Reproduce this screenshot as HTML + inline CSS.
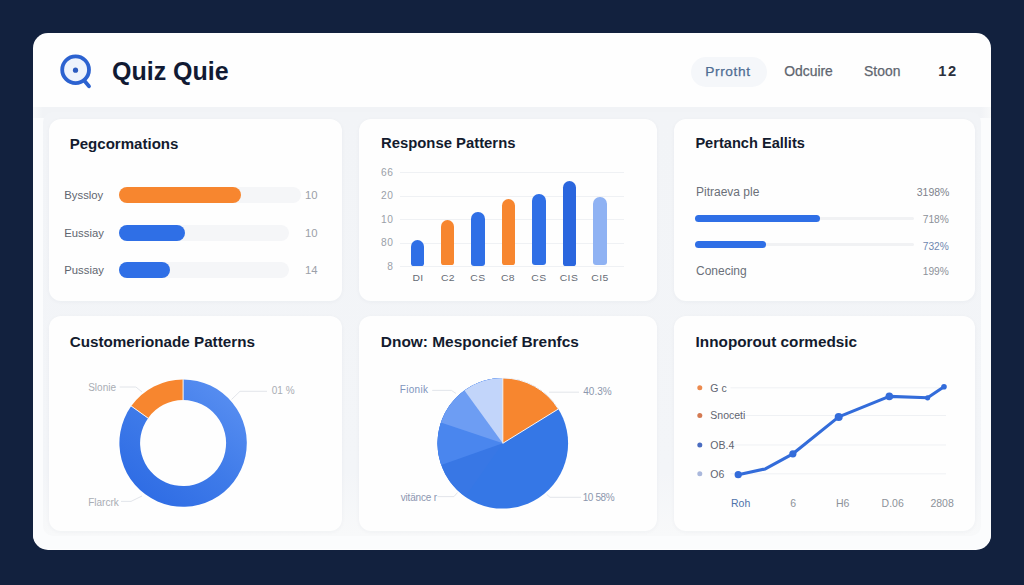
<!DOCTYPE html>
<html><head><meta charset="utf-8"><title>Quiz Quie</title>
<style>
html,body{margin:0;padding:0}
body{width:1024px;height:585px;position:relative;overflow:hidden;background:#12213e;font-family:"Liberation Sans",Arial,sans-serif}
.t{position:absolute;line-height:1;white-space:nowrap}
.r{position:absolute}
.a{position:absolute}
</style></head><body>
<div class="r" style="left:33px;top:33.4px;width:958.20px;height:516.20px;background:#fefefe;border-radius:15px;"></div>
<div class="r" style="left:33px;top:106.6px;width:958.00px;height:442.90px;background:#fbfcfd;border-radius:0px;border-radius:0 0 15px 15px;"></div>
<div class="r" style="left:33px;top:106.6px;width:958.00px;height:11.90px;background:linear-gradient(90deg,#f8f9fa 0px,#f1f3f6 10px,#f1f3f6 948px,#f8f9fa 958px);border-radius:0px;"></div>
<div class="r" style="left:43px;top:112px;width:937.50px;height:424.00px;background:linear-gradient(180deg,#f2f4f7 0px,#f3f5f8 360px,#f8f9fa 424px);border-radius:10px;"></div>
<div class="r" style="left:48.5px;top:118.5px;width:293.50px;height:182.00px;background:#fefefe;border-radius:12px;box-shadow:0 1px 4px rgba(30,40,70,0.04);"></div>
<div class="r" style="left:48.5px;top:316px;width:293.50px;height:215.00px;background:#fefefe;border-radius:12px;box-shadow:0 1px 4px rgba(30,40,70,0.04);"></div>
<div class="r" style="left:359px;top:118.5px;width:297.50px;height:182.00px;background:#fefefe;border-radius:12px;box-shadow:0 1px 4px rgba(30,40,70,0.04);"></div>
<div class="r" style="left:359px;top:316px;width:297.50px;height:215.00px;background:#fefefe;border-radius:12px;box-shadow:0 1px 4px rgba(30,40,70,0.04);"></div>
<div class="r" style="left:674px;top:118.5px;width:301.00px;height:182.00px;background:#fefefe;border-radius:12px;box-shadow:0 1px 4px rgba(30,40,70,0.04);"></div>
<div class="r" style="left:674px;top:316px;width:301.00px;height:215.00px;background:#fefefe;border-radius:12px;box-shadow:0 1px 4px rgba(30,40,70,0.04);"></div>
<svg class="a" style="left:56px;top:50px" width="40" height="42" viewBox="56 50 40 42">
<circle cx="75.6" cy="69.7" r="13.4" fill="#eef3fc" stroke="#2c62d0" stroke-width="3.8"/>
<line x1="85" y1="81.6" x2="89" y2="86.3" stroke="#2c62d0" stroke-width="3.8" stroke-linecap="round"/>
<circle cx="75.5" cy="70.2" r="2.6" fill="#2c5bc0"/>
</svg>
<div class="t" style="left:112.00px;top:59.34px;font-size:25.0px;color:#111a33;font-weight:700;">Quiz Quie</div>
<div class="r" style="left:691px;top:57px;width:76.00px;height:30.00px;background:#f5f7fa;border-radius:15px;"></div>
<div class="t" style="left:705.30px;top:65.00px;font-size:13.7px;color:#4f6d93;font-weight:400;letter-spacing:0.6px;-webkit-text-stroke:0.25px currentColor;">Prrotht</div>
<div class="t" style="left:784.20px;top:64.83px;font-size:13.9px;color:#60656f;font-weight:400;-webkit-text-stroke:0.25px currentColor;">Odcuire</div>
<div class="t" style="left:864.10px;top:64.83px;font-size:13.9px;color:#60656f;font-weight:400;-webkit-text-stroke:0.25px currentColor;">Stoon</div>
<div class="t" style="left:938.30px;top:64.24px;font-size:14.6px;color:#2b303d;font-weight:700;letter-spacing:1.5px;">12</div>
<div class="t" style="left:69.70px;top:135.86px;font-size:15.05px;color:#131b2e;font-weight:700;">Pegcormations</div>
<div class="t" style="left:64.30px;top:190.23px;font-size:11.3px;color:#60656f;font-weight:400;">Byssloy</div>
<div class="r" style="left:118.6px;top:187px;width:182.40px;height:16.00px;background:#f5f6f8;border-radius:8px;"></div>
<div class="r" style="left:118.6px;top:187px;width:122.00px;height:16.00px;background:#f7862f;border-radius:8px;"></div>
<div class="t" style="left:305.00px;top:190.23px;font-size:11.3px;color:#9ba0a8;font-weight:400;">10</div>
<div class="t" style="left:64.30px;top:227.73px;font-size:11.3px;color:#60656f;font-weight:400;">Eussiay</div>
<div class="r" style="left:118.6px;top:224.5px;width:170.90px;height:16.00px;background:#f5f6f8;border-radius:8px;"></div>
<div class="r" style="left:118.6px;top:224.5px;width:66.00px;height:16.00px;background:#2f6fe6;border-radius:8px;"></div>
<div class="t" style="left:305.00px;top:227.73px;font-size:11.3px;color:#9ba0a8;font-weight:400;">10</div>
<div class="t" style="left:64.30px;top:265.23px;font-size:11.3px;color:#60656f;font-weight:400;">Pussiay</div>
<div class="r" style="left:118.6px;top:262px;width:170.90px;height:16.00px;background:#f5f6f8;border-radius:8px;"></div>
<div class="r" style="left:118.6px;top:262px;width:51.40px;height:16.00px;background:#2f6fe6;border-radius:8px;"></div>
<div class="t" style="left:305.00px;top:265.23px;font-size:11.3px;color:#9ba0a8;font-weight:400;">14</div>
<div class="t" style="left:381.00px;top:136.03px;font-size:14.85px;color:#131b2e;font-weight:700;">Response Patterns</div>
<div class="t" style="right:630.20px;top:167.57px;font-size:10.2px;color:#9a9fa8;font-weight:400;letter-spacing:0.8px;">66</div>
<div class="r" style="left:400px;top:172.0px;width:223.50px;height:1.00px;background:#eff1f4;border-radius:0px;"></div>
<div class="t" style="right:630.20px;top:191.07px;font-size:10.2px;color:#9a9fa8;font-weight:400;letter-spacing:0.8px;">20</div>
<div class="r" style="left:400px;top:195.5px;width:223.50px;height:1.00px;background:#eff1f4;border-radius:0px;"></div>
<div class="t" style="right:630.20px;top:214.67px;font-size:10.2px;color:#9a9fa8;font-weight:400;letter-spacing:0.8px;">10</div>
<div class="r" style="left:400px;top:219.1px;width:223.50px;height:1.00px;background:#eff1f4;border-radius:0px;"></div>
<div class="t" style="right:630.20px;top:238.37px;font-size:10.2px;color:#9a9fa8;font-weight:400;letter-spacing:0.8px;">80</div>
<div class="r" style="left:400px;top:242.8px;width:223.50px;height:1.00px;background:#eff1f4;border-radius:0px;"></div>
<div class="t" style="right:630.20px;top:261.97px;font-size:10.2px;color:#9a9fa8;font-weight:400;letter-spacing:0.8px;">8</div>
<div class="r" style="left:400px;top:266.4px;width:223.50px;height:1.00px;background:#eff1f4;border-radius:0px;"></div>
<div class="r" style="left:410.8px;top:239.5px;width:13.60px;height:26.00px;background:#2f6fe6;border-radius:0px;border-radius:6.8px 6.8px 3px 3px;"></div>
<div class="t" style="left:417.60px;top:272.70px;font-size:9.8px;color:#666b75;font-weight:400;letter-spacing:0.4px;transform:translateX(-50%) scaleX(1.06);">DI</div>
<div class="r" style="left:440.8px;top:220.3px;width:13.60px;height:45.20px;background:#f7862f;border-radius:0px;border-radius:6.8px 6.8px 3px 3px;"></div>
<div class="t" style="left:447.60px;top:272.70px;font-size:9.8px;color:#666b75;font-weight:400;letter-spacing:0.4px;transform:translateX(-50%) scaleX(1.06);">C2</div>
<div class="r" style="left:471.2px;top:212px;width:13.60px;height:53.50px;background:#2f6fe6;border-radius:0px;border-radius:6.8px 6.8px 3px 3px;"></div>
<div class="t" style="left:478.00px;top:272.70px;font-size:9.8px;color:#666b75;font-weight:400;letter-spacing:0.4px;transform:translateX(-50%) scaleX(1.06);">CS</div>
<div class="r" style="left:501.6px;top:198.8px;width:13.60px;height:66.70px;background:#f7862f;border-radius:0px;border-radius:6.8px 6.8px 3px 3px;"></div>
<div class="t" style="left:508.40px;top:272.70px;font-size:9.8px;color:#666b75;font-weight:400;letter-spacing:0.4px;transform:translateX(-50%) scaleX(1.06);">C8</div>
<div class="r" style="left:532px;top:194.4px;width:13.60px;height:71.10px;background:#2f6fe6;border-radius:0px;border-radius:6.8px 6.8px 3px 3px;"></div>
<div class="t" style="left:538.80px;top:272.70px;font-size:9.8px;color:#666b75;font-weight:400;letter-spacing:0.4px;transform:translateX(-50%) scaleX(1.06);">CS</div>
<div class="r" style="left:562.6px;top:181px;width:13.60px;height:84.50px;background:#2a66de;border-radius:0px;border-radius:6.8px 6.8px 3px 3px;"></div>
<div class="t" style="left:569.40px;top:272.70px;font-size:9.8px;color:#666b75;font-weight:400;letter-spacing:0.4px;transform:translateX(-50%) scaleX(1.06);">CIS</div>
<div class="r" style="left:593px;top:196.8px;width:13.60px;height:68.70px;background:#8fb2f3;border-radius:0px;border-radius:6.8px 6.8px 3px 3px;"></div>
<div class="t" style="left:599.80px;top:272.70px;font-size:9.8px;color:#666b75;font-weight:400;letter-spacing:0.4px;transform:translateX(-50%) scaleX(1.06);">CI5</div>
<div class="t" style="left:695.40px;top:136.24px;font-size:14.6px;color:#131b2e;font-weight:700;">Pertanch Eallits</div>
<div class="t" style="left:696.00px;top:185.84px;font-size:12px;color:#6b7079;font-weight:400;">Pitraeva ple</div>
<div class="t" style="right:74.60px;top:187.11px;font-size:10.5px;color:#7d828c;font-weight:400;">3198%</div>
<div class="r" style="left:695.4px;top:216.9px;width:218.60px;height:3.00px;background:#f1f2f4;border-radius:1.5px;"></div>
<div class="r" style="left:695.4px;top:215px;width:124.60px;height:7.20px;background:#2f6fe6;border-radius:3.6px;"></div>
<div class="t" style="right:75.20px;top:214.97px;font-size:10.2px;color:#8c9199;font-weight:400;">718%</div>
<div class="r" style="left:695.4px;top:243.2px;width:218.60px;height:3.00px;background:#f1f2f4;border-radius:1.5px;"></div>
<div class="r" style="left:695.4px;top:241.3px;width:70.80px;height:7.00px;background:#2f6fe6;border-radius:3.5px;"></div>
<div class="t" style="right:75.20px;top:241.97px;font-size:10.2px;color:#6f88b0;font-weight:400;">732%</div>
<div class="t" style="left:696.00px;top:265.14px;font-size:12px;color:#6b7079;font-weight:400;">Conecing</div>
<div class="t" style="right:75.20px;top:266.67px;font-size:10.2px;color:#8c9199;font-weight:400;">199%</div>
<div class="t" style="left:69.70px;top:334.11px;font-size:15.23px;color:#131b2e;font-weight:700;">Customerionade Patterns</div>
<svg class="a" style="left:0;top:0" width="1024" height="585" viewBox="0 0 1024 585">
<defs><linearGradient id="dg" x1="1" y1="0" x2="0.2" y2="1"><stop offset="0" stop-color="#5e93f3"/><stop offset="0.55" stop-color="#3f7be9"/><stop offset="1" stop-color="#2d6be4"/></linearGradient></defs>
<path d="M183.10,379.40 A63.7,63.7 0 1 1 131.24,406.11 L148.09,418.13 A43,43 0 1 0 183.10,400.10 Z" fill="url(#dg)"/>
<path d="M131.24,406.11 A63.7,63.7 0 0 1 183.10,379.40 L183.10,400.10 A43,43 0 0 0 148.09,418.13 Z" fill="#f7862f"/>
<line x1="183.1" y1="379.1" x2="183.1" y2="400.6" stroke="#f4f4f6" stroke-width="1"/>
<line x1="131.00" y1="405.94" x2="148.50" y2="418.42" stroke="#f4f4f6" stroke-width="1"/>
<polyline points="119.7,387 135.9,387 142,392" fill="none" stroke="#dfe2e8" stroke-width="0.9"/>
<polyline points="231.5,399.5 240,391.3 267,391.3" fill="none" stroke="#dfe2e8" stroke-width="0.9"/>
<polyline points="121,501.4 131,501.4 142,496" fill="none" stroke="#dfe2e8" stroke-width="0.9"/>
<circle cx="502.8" cy="443.3" r="65.3" fill="#3577e6"/>
<path d="M502.8,443.3 L465.35,496.79 A65.3,65.3 0 0 1 502.80,378.00 Z" fill="#3877e5" />
<path d="M502.8,443.3 L441.21,464.99 A65.3,65.3 0 0 1 502.80,378.00 Z" fill="#4a86ee" />
<path d="M502.8,443.3 L440.87,422.58 A65.3,65.3 0 0 1 502.80,378.00 Z" fill="#6d9df3" />
<path d="M502.8,443.3 L464.51,390.40 A65.3,65.3 0 0 1 502.80,378.00 Z" fill="#c2d5fa" />
<path d="M502.8,443.3 L502.80,378.00 A65.3,65.3 0 0 1 558.36,408.99 Z" fill="#f7862f" stroke="#f6f6f8" stroke-width="1"/>
<polyline points="432.2,390.4 451.5,390.4 456,393.5" fill="none" stroke="#dfe2e8" stroke-width="0.9"/>
<polyline points="549,392.2 579,392.2" fill="none" stroke="#dfe2e8" stroke-width="0.9"/>
<polyline points="437.5,496.6 454,496.6 457.5,492.5" fill="none" stroke="#dfe2e8" stroke-width="0.9"/>
<polyline points="546.7,494.4 550,497.3 581,497.3" fill="none" stroke="#dfe2e8" stroke-width="0.9"/>
<line x1="730.5" y1="387.8" x2="946" y2="387.8" stroke="#eff1f4" stroke-width="1"/>
<line x1="730.5" y1="415.5" x2="946" y2="415.5" stroke="#eff1f4" stroke-width="1"/>
<line x1="730.5" y1="445" x2="946" y2="445" stroke="#eff1f4" stroke-width="1"/>
<line x1="730.5" y1="473.8" x2="946" y2="473.8" stroke="#eff1f4" stroke-width="1"/>
<polyline points="738.2,474.7 765.3,468.9 792.9,453.8 838.7,416.9 889.3,396.4 927.6,397.8 944,386.7" fill="none" stroke="#336cda" stroke-width="3.1" stroke-linejoin="round" stroke-linecap="round"/>
<circle cx="738.2" cy="474.7" r="3.6" fill="#336cda"/>
<circle cx="792.9" cy="453.8" r="3.6" fill="#336cda"/>
<circle cx="838.7" cy="416.9" r="4.0" fill="#336cda"/>
<circle cx="889.3" cy="396.4" r="3.8" fill="#336cda"/>
<circle cx="927.6" cy="397.8" r="2.6" fill="#336cda"/>
<circle cx="944" cy="386.7" r="2.8" fill="#336cda"/>
<circle cx="699.8" cy="387.8" r="2.5" fill="#ec8a4e"/>
<circle cx="699.8" cy="415.5" r="2.5" fill="#d47a52"/>
<circle cx="699.8" cy="445" r="2.5" fill="#4a6cc0"/>
<circle cx="699.8" cy="473.8" r="2.5" fill="#aab8dc"/>
</svg>
<div class="t" style="left:88.20px;top:382.84px;font-size:10px;color:#a9adb4;font-weight:400;">Slonie</div>
<div class="t" style="left:271.80px;top:386.34px;font-size:10px;color:#a9adb4;font-weight:400;">01 %</div>
<div class="t" style="left:88.20px;top:498.04px;font-size:10px;color:#a9adb4;font-weight:400;">Flarcrk</div>
<div class="t" style="left:380.80px;top:333.72px;font-size:15.45px;color:#131b2e;font-weight:700;">Dnow: Mesponcief Brenfcs</div>
<div class="t" style="left:399.80px;top:385.14px;font-size:10px;color:#7f95bd;font-weight:400;letter-spacing:0.3px;">Fionik</div>
<div class="t" style="left:583.30px;top:387.14px;font-size:10px;color:#8c97ad;font-weight:400;">40.3%</div>
<div class="t" style="left:400.80px;top:492.64px;font-size:10px;color:#8c96b0;font-weight:400;letter-spacing:-0.2px;">vitänce r</div>
<div class="t" style="left:582.70px;top:493.34px;font-size:10px;color:#8c97ad;font-weight:400;letter-spacing:-0.4px;">10 58%</div>
<div class="t" style="left:695.60px;top:333.75px;font-size:15.3px;color:#131b2e;font-weight:700;">Innoporout cormedsic</div>
<div class="t" style="left:710.30px;top:382.71px;font-size:10.5px;color:#5f6470;font-weight:400;">G c</div>
<div class="t" style="left:710.30px;top:410.41px;font-size:10.5px;color:#5f6470;font-weight:400;">Snoceti</div>
<div class="t" style="left:710.30px;top:439.91px;font-size:10.5px;color:#5f6470;font-weight:400;">OB.4</div>
<div class="t" style="left:710.30px;top:468.71px;font-size:10.5px;color:#5f6470;font-weight:400;">O6</div>
<div class="t" style="left:731.00px;top:497.71px;font-size:10.5px;color:#4f73aa;font-weight:400;">Roh</div>
<div class="t" style="left:790.30px;top:497.71px;font-size:10.5px;color:#8d929a;font-weight:400;">6</div>
<div class="t" style="left:836.00px;top:497.71px;font-size:10.5px;color:#8d929a;font-weight:400;">H6</div>
<div class="t" style="left:881.60px;top:497.71px;font-size:10.5px;color:#8d929a;font-weight:400;">D.06</div>
<div class="t" style="left:930.40px;top:497.71px;font-size:10.5px;color:#8d929a;font-weight:400;">2808</div>
</body></html>
